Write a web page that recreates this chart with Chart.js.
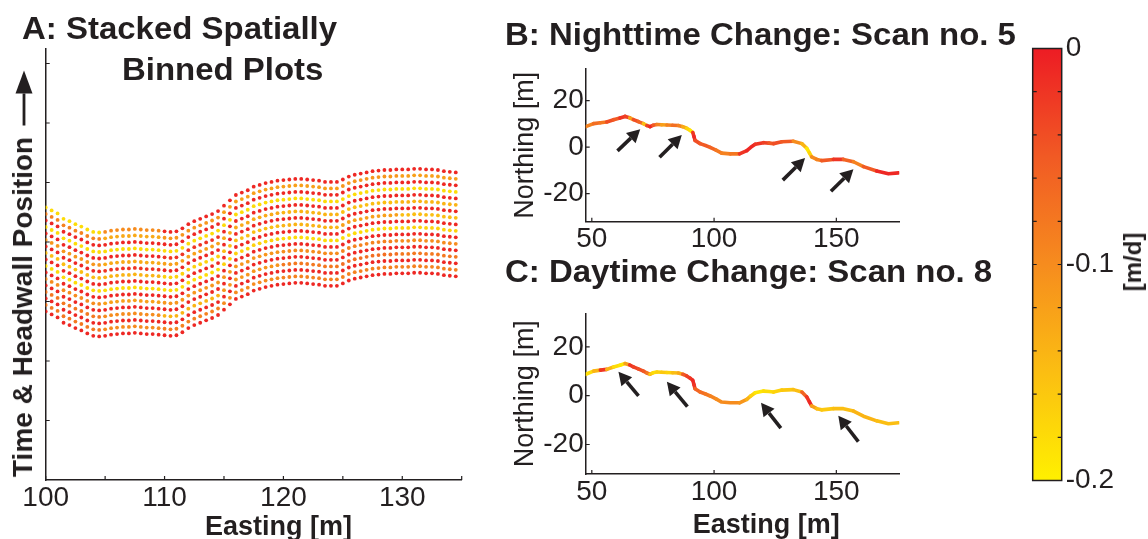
<!DOCTYPE html>
<html>
<head>
<meta charset="utf-8">
<script src="https://cdn.jsdelivr.net/npm/chart.js@4.4.0/dist/chart.umd.min.js"></script>
<style>
  body { margin: 0; width: 1148px; height: 539px; overflow: hidden; background: #fff;
         font-family: "Liberation Sans", Arial, sans-serif; color: #231f20; }
  canvas, .t { position: absolute; }
  .t { font-weight: bold; white-space: nowrap; line-height: 1; transform-origin: 0 0; }
  .ttl { font-size: 32px; transform: scaleX(1.03); }
  .ax { font-size: 27px; }
  .rot { transform-origin: 50% 50%; }
</style>
</head>
<body>
<canvas id="chartA" width="480" height="539" style="left:0;top:0"></canvas>
<canvas id="chartB" width="540" height="210" style="left:480px;top:50px"></canvas>
<canvas id="chartC" width="540" height="249" style="left:480px;top:290px"></canvas>
<canvas id="chartBar" width="138" height="539" style="left:1010px;top:0"></canvas>

<div class="t ttl" style="left:22px;top:11.9px">A: Stacked Spatially</div>
<div class="t ttl" style="left:122px;top:52.9px">Binned Plots</div>
<div class="t ttl" style="left:505px;top:17.9px">B: Nighttime Change: Scan no. 5</div>
<div class="t ttl" style="left:505px;top:254.9px">C: Daytime Change: Scan no. 8</div>
<div class="t ax" style="left:205px;top:513.1px">Easting [m]</div>
<div class="t ax" style="left:692.7px;top:511.4px">Easting [m]</div>
<div class="t rot" style="left:23px;top:307px;font-size:28px;transform:translate(-50%,-50%) rotate(-90deg)">Time &amp; Headwall Position</div>
<div class="t rot" style="left:1133px;top:262px;font-size:24px;transform:translate(-50%,-50%) rotate(-90deg)">[m/d]</div>

<script>
const INK = "#231f20";

// ---- panel A: stacked spatially binned headwall positions ----
const binEasting = [
  100, 100.5, 101, 101.5, 102, 102.5, 103, 103.5, 104, 104.5,
  105, 105.5, 106, 106.5, 107, 107.5, 108, 108.5, 109, 109.5,
  110, 110.5, 111, 111.5, 112, 112.5, 113, 113.5, 114, 114.5,
  115, 115.5, 116, 116.5, 117, 117.5, 118, 118.5, 119, 119.5,
  120, 120.5, 121, 121.5, 122, 122.5, 123, 123.5, 124, 124.5,
  125, 125.5, 126, 126.5, 127, 127.5, 128, 128.5, 129, 129.5,
  130, 130.5, 131, 131.5, 132, 132.5, 133, 133.5, 134, 134.5,
];
// position of the newest (top) row at each bin
const topRow = [
  4.58, 4.53, 4.48, 4.39, 4.35, 4.30, 4.26, 4.21, 4.17, 4.16,
  4.17, 4.19, 4.20, 4.21, 4.21, 4.22, 4.21, 4.20, 4.20, 4.19,
  4.18, 4.17, 4.18, 4.23, 4.30, 4.35, 4.39, 4.43, 4.47, 4.52,
  4.61, 4.70, 4.79, 4.83, 4.87, 4.93, 4.96, 4.99, 5.01, 5.03,
  5.04, 5.05, 5.06, 5.06, 5.05, 5.04, 5.03, 5.01, 5.01, 5.01,
  5.05, 5.10, 5.13, 5.15, 5.17, 5.19, 5.20, 5.21, 5.21, 5.22,
  5.22, 5.22, 5.23, 5.23, 5.22, 5.22, 5.21, 5.19, 5.18, 5.17,
];
// stacking offset of each scan below the top row
const rowShift = [0, 0.109, 0.218, 0.328, 0.437, 0.546, 0.655, 0.764, 0.874,
  0.983, 1.092, 1.201, 1.310, 1.420, 1.529, 1.638, 1.747];
// change rate [m/d] per scan, in 5 m easting blocks (100-105, ..., 130-135)
const rowRates = [
  [-0.18, -0.10, -0.01, -0.01, -0.01, -0.01, -0.01],
  [-0.09, -0.13, -0.11, -0.12, -0.12, -0.11, -0.12],
  [-0.01, -0.01, -0.01, -0.01, -0.01, -0.01, -0.01],
  [-0.18, -0.18, -0.18, -0.18, -0.18, -0.18, -0.18],
  [-0.01, -0.01, -0.02, -0.01, -0.01, -0.01, -0.01],
  [-0.11, -0.13, -0.12, -0.13, -0.14, -0.15, -0.14],
  [-0.01, -0.02, -0.01, -0.01, -0.01, -0.01, -0.01],
  [-0.15, -0.14, -0.17, -0.15, -0.14, -0.12, -0.15],
  [-0.01, -0.01, -0.01, -0.01, -0.01, -0.01, -0.01],
  [-0.18, -0.18, -0.18, -0.17, -0.18, -0.18, -0.17],
  [-0.01, -0.01, -0.01, -0.01, -0.01, -0.01, -0.01],
  [-0.10, -0.12, -0.11, -0.11, -0.10, -0.09, -0.10],
  [-0.01, -0.01, -0.01, -0.01, -0.01, -0.01, -0.01],
  [-0.08, -0.10, -0.14, -0.11, -0.08, -0.07, -0.08],
  [-0.01, -0.01, -0.01, -0.01, -0.01, -0.01, -0.01],
  [-0.08, -0.10, -0.09, -0.10, -0.09, -0.09, -0.09],
  [-0.01, -0.01, -0.01, -0.01, -0.01, -0.01, -0.01],
];
const eastTicksA = [100, 105, 110, 115, 120, 125, 130, 135];
const eastLabelsA = [100, 110, 120, 130];
const stackTicks = [1, 2, 3, 4, 5, 6, 7];

// ---- panels B and C: headwall trace ----
const profileEasting = [
  47.5, 50.7, 53.5, 56.1, 58.9, 61.5, 63.6, 65.5, 67.0, 69.0,
  71.1, 72.5, 73.8, 75.0, 76.6, 78.5, 80.7, 83.0, 85.4, 87.2,
  88.8, 90.2, 91.3, 91.8, 92.2, 94.3, 96.5, 98.4, 100.8, 103.1,
  106.6, 110.4, 113.4, 115.0, 116.8, 120.2, 122.5, 124.3, 127.7, 132.4,
  135.9, 137.9, 139.0, 139.9, 142.0, 144.0, 148.8, 152.9, 157.0, 161.1,
  166.5, 171.3, 175.4,
];
const profileNorthing = [
  8.8, 10.1, 10.5, 10.8, 11.8, 12.5, 13.2, 12.6, 11.8, 11.0,
  10.1, 9.3, 8.8, 9.4, 9.7, 9.6, 9.5, 9.4, 9.3, 8.8,
  8.1, 7.2, 6.3, 4.5, 2.9, 1.5, 0.7, -0.1, -1.3, -2.6,
  -2.9, -2.9, -1.5, -0.1, 1.2, 1.9, 1.7, 1.5, 2.3, 2.5,
  1.5, -0.5, -2.5, -4.2, -5.3, -5.8, -5.3, -5.3, -6.3, -8.4,
  -10.3, -11.5, -11.1,
];
const nightRate = [
  -0.09, -0.07, -0.08, -0.04, -0.05, -0.02, -0.03, -0.12, -0.04, -0.06,
  -0.15, -0.03, -0.01, -0.05, -0.09, -0.12, -0.09, -0.07, -0.09, -0.13,
  -0.17, -0.19, -0.02, -0.01, -0.04, -0.05, -0.05, -0.06, -0.08, -0.09,
  -0.08, -0.02, -0.01, -0.01, -0.02, -0.03, -0.05, -0.04, -0.05, -0.10,
  -0.14, -0.19, -0.17, -0.10, -0.09, -0.05, -0.02, -0.06, -0.09, -0.05,
  -0.01, -0.01, -0.01,
];
const dayRate = [
  -0.18, -0.14, -0.02, -0.14, -0.18, -0.19, -0.12, -0.02, -0.03, -0.04,
  -0.05, -0.08, -0.16, -0.18, -0.17, -0.16, -0.17, -0.15, -0.13, -0.05,
  -0.03, -0.02, -0.01, -0.02, -0.06, -0.07, -0.08, -0.09, -0.10, -0.10,
  -0.10, -0.11, -0.14, -0.17, -0.19, -0.18, -0.18, -0.17, -0.16, -0.15,
  -0.06, -0.02, -0.01, -0.12, -0.15, -0.16, -0.15, -0.15, -0.14, -0.14,
  -0.15, -0.15, -0.15,
];
// arrows: [tail easting, tail northing, head easting, head northing]
const nightArrows = [[60.5, -1.6, 69.8, 7.7], [77.7, -4.4, 86.8, 5.2],
  [128.1, -14.2, 137.2, -4.7], [147.8, -19.0, 157.0, -9.5]];
const dayArrows = [[69.1, -0.1, 60.9, 9.8], [89.1, -4.5, 80.7, 5.7],
  [127.3, -13.3, 119.2, -2.9], [159.0, -18.8, 150.8, -8.2]];
const eastTicksBC = [50, 100, 150];
const northTicks = [-20, 0, 20];

// ---- colour bar ----
const barTicks = [-0.2, -0.18, -0.16, -0.14, -0.12, -0.1, -0.08, -0.06, -0.04, -0.02, 0];
const barLabels = ["-0.2", "", "", "", "", "-0.1", "", "", "", "", "0"];

// red (0) -> yellow (-0.2)
const CMAP = [[237, 28, 36], [241, 90, 36], [246, 140, 30], [251, 190, 18], [255, 240, 0]];
function rateColor(r) {
  const t = Math.min(1, Math.max(0, -r / 0.2)) * (CMAP.length - 1);
  const i = Math.min(CMAP.length - 2, Math.floor(t)), f = t - i;
  const c = CMAP[i].map((v, k) => Math.round(v + (CMAP[i + 1][k] - v) * f));
  return `rgb(${c[0]},${c[1]},${c[2]})`;
}

Chart.defaults.font.family = '"Liberation Sans", Arial, sans-serif';
Chart.defaults.color = INK;

// matlab style ticks pointing into the axes
const inTicks = {
  id: "inTicks",
  afterDatasetsDraw(chart, args, opts) {
    const { ctx, chartArea: a } = chart;
    const len = opts.len || 4;
    ctx.save();
    ctx.strokeStyle = INK;
    ctx.lineWidth = 1.2;
    ctx.beginPath();
    Object.values(chart.scales).forEach((s) => {
      if (!s.options.display) return;
      s.ticks.forEach((t) => {
        const p = s.getPixelForValue(t.value);
        if (s.isHorizontal()) {
          ctx.moveTo(p, a.bottom);
          ctx.lineTo(p, a.bottom - len);
        } else {
          if (s.position === "left" || opts.both) {
            ctx.moveTo(a.left, p);
            ctx.lineTo(a.left + len, p);
          }
          if (s.position === "right" || opts.both) {
            ctx.moveTo(a.right, p);
            ctx.lineTo(a.right - len, p);
          }
        }
      });
    });
    ctx.stroke();
    if (opts.frame) {
      ctx.lineWidth = 1.5;
      ctx.strokeRect(a.left, a.top, a.width, a.height);
    }
    ctx.restore();
  },
};

function drawArrow(ctx, ax, ay, bx, by, L, W, lw) {
  const ang = Math.atan2(by - ay, bx - ax);
  const cx = bx - L * Math.cos(ang), cy = by - L * Math.sin(ang);
  ctx.lineWidth = lw;
  ctx.beginPath();
  ctx.moveTo(ax, ay);
  ctx.lineTo(cx, cy);
  ctx.stroke();
  ctx.beginPath();
  ctx.moveTo(bx, by);
  ctx.lineTo(cx + W * Math.sin(ang), cy - W * Math.cos(ang));
  ctx.lineTo(cx - W * Math.sin(ang), cy + W * Math.cos(ang));
  ctx.closePath();
  ctx.fill();
}

const arrowsPlugin = {
  id: "arrows",
  afterDatasetsDraw(chart, args, opts) {
    const { ctx } = chart;
    ctx.save();
    ctx.fillStyle = INK;
    ctx.strokeStyle = INK;
    if (opts.list) {
      const { x, y } = chart.scales;
      opts.list.forEach(([x0, y0, x1, y1]) => {
        drawArrow(ctx, x.getPixelForValue(x0), y.getPixelForValue(y0),
          x.getPixelForValue(x1), y.getPixelForValue(y1), 13, 7, 3.6);
      });
    }
    if (opts.axisArrow) {
      // arrow continuing the "Time & Headwall Position" label
      const a = chart.chartArea, ax = opts.axisArrow;
      drawArrow(ctx, ax.x, a.top + ax.from, ax.x, a.top + ax.to, 23, 8.5, 2.8);
    }
    ctx.restore();
  },
};

const hideGrid = { display: false, drawTicks: false };
const axisBorder = { color: INK, width: 1.5 };
const setTicks = (list) => (s) => { s.ticks = list.map((v) => ({ value: v })); };

// panel A
new Chart(document.getElementById("chartA"), {
  type: "scatter",
  data: {
    datasets: rowShift.map((shift, r) => ({
      data: binEasting.map((e, i) => ({ x: e, y: topRow[i] - shift })),
      pointRadius: 1.9,
      pointBorderWidth: 0,
      pointBackgroundColor: (c) => rateColor(rowRates[r][Math.floor(c.dataIndex / 10)]),
    })),
  },
  options: {
    responsive: false,
    animation: false,
    layout: { padding: { left: 0, top: 48.5, right: 18.3, bottom: 0 } },
    plugins: {
      legend: { display: false },
      tooltip: { enabled: false },
      inTicks: { len: 4 },
      arrows: { axisArrow: { x: 24, from: 77, to: 22 } },
    },
    scales: {
      x: {
        type: "linear", min: 100, max: 135,
        afterBuildTicks: setTicks(eastTicksA),
        afterFit: (s) => { s.height = 59; },
        grid: hideGrid, border: axisBorder,
        ticks: {
          padding: 1, font: { size: 28 }, maxRotation: 0, autoSkip: false,
          callback: (v) => (eastLabelsA.includes(v) ? v : ""),
        },
      },
      y: {
        min: 0, max: 7.252,
        afterBuildTicks: setTicks(stackTicks),
        afterFit: (s) => { s.width = 45.7; },
        grid: hideGrid, border: axisBorder,
        ticks: { display: false },
      },
    },
  },
  plugins: [inTicks, arrowsPlugin],
});

// panels B and C
function profileChart(id, rates, arrows, padTop, yMax, xHeight) {
  return new Chart(document.getElementById(id), {
    type: "line",
    data: {
      datasets: [{
        data: profileEasting.map((e, i) => ({ x: e, y: profileNorthing[i] })),
        borderWidth: 3.6,
        pointRadius: 0,
        tension: 0,
        borderCapStyle: "round",
        borderJoinStyle: "round",
        segment: { borderColor: (c) => rateColor(rates[c.p0DataIndex]) },
      }],
    },
    options: {
      responsive: false,
      animation: false,
      layout: { padding: { left: 0, top: padTop, right: 120.7, bottom: 0 } },
      plugins: {
        legend: { display: false },
        tooltip: { enabled: false },
        inTicks: { len: 4 },
        arrows: { list: arrows },
      },
      scales: {
        x: {
          type: "linear", min: 47.5, max: 175.75,
          afterBuildTicks: setTicks(eastTicksBC),
          afterFit: (s) => { s.height = xHeight; },
          grid: hideGrid, border: axisBorder,
          ticks: { padding: 1, font: { size: 28 }, maxRotation: 0, autoSkip: false },
        },
        y: {
          min: -32.1, max: yMax,
          afterBuildTicks: setTicks(northTicks),
          afterFit: (s) => { s.width = 105.7; },
          grid: hideGrid, border: axisBorder,
          ticks: { padding: 2, font: { size: 28 }, autoSkip: false },
          title: {
            display: true, text: "Northing [m]", font: { size: 27 },
            padding: { top: 29, bottom: 0 },
          },
        },
      },
    },
    plugins: [inTicks, arrowsPlugin],
  });
}
profileChart("chartB", nightRate, nightArrows, 11.7, 33.7, 38.3);
profileChart("chartC", dayRate, dayArrows, 23.3, 33.8, 65);

// colour bar
new Chart(document.getElementById("chartBar"), {
  type: "bar",
  data: {
    labels: ["rate"],
    datasets: [{
      data: [[barTicks[0], barTicks[barTicks.length - 1]]],
      barPercentage: 1,
      categoryPercentage: 1,
      borderWidth: 0,
      backgroundColor: (c) => {
        const a = c.chart.chartArea;
        if (!a) return CMAP[0];
        const g = c.chart.ctx.createLinearGradient(0, a.top, 0, a.bottom);
        CMAP.forEach((col, k) => g.addColorStop(k / (CMAP.length - 1), `rgb(${col.join(",")})`));
        return g;
      },
    }],
  },
  options: {
    responsive: false,
    animation: false,
    layout: { padding: { left: 22.7, top: 48.5, right: 0, bottom: 58.5 } },
    plugins: {
      legend: { display: false },
      tooltip: { enabled: false },
      inTicks: { len: 4, both: true, frame: true },
    },
    scales: {
      x: { display: false },
      y: {
        position: "right", min: -0.2, max: 0,
        afterBuildTicks: setTicks(barTicks),
        afterFit: (s) => { s.width = 86.3; },
        grid: hideGrid, border: { display: false },
        ticks: {
          padding: 4, font: { size: 28 }, autoSkip: false,
          callback: (v, i) => barLabels[i],
        },
      },
    },
  },
  plugins: [inTicks],
});
</script>
</body>
</html>
